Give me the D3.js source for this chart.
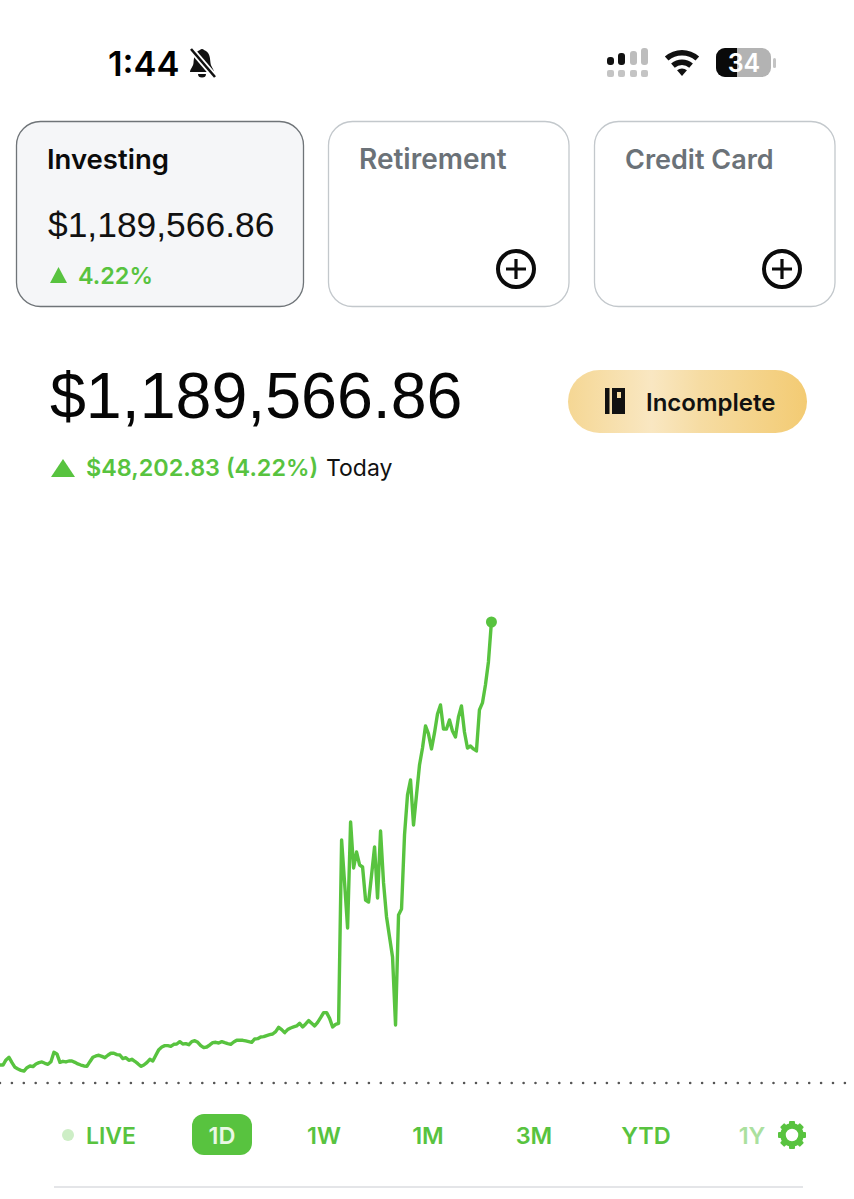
<!DOCTYPE html>
<html>
<head>
<meta charset="utf-8">
<title>Investing 1D</title>
<script src="https://cdn.jsdelivr.net/npm/d3@7"></script>
<style>
    html, body { margin: 0; padding: 0; background: #fff; }
    svg { display: block; }
    text { font-family: Inter, "Liberation Sans", sans-serif; }
    .num { font-family: "Liberation Sans", Arial, sans-serif; }
</style>
</head>
<body>
<div id="chart"></div>
<script>
// Change against the previous close in dollars, one sample per step
const todayChange = [
    1780, 1780, 2310, 2590, 2030, 1540, 1360, 1220, 1150, 1500, 1680, 1610, 1890, 2030, 2100, 1960,
    1850, 2130, 3110, 2940, 2060, 2170, 2100, 2200, 2200, 2060, 1890, 1780, 1680, 1640, 2130, 2590,
    2730, 2800, 2690, 2550, 2800, 3010, 3010, 2870, 2830, 2450, 2550, 2270, 2380, 2170, 1920, 1640,
    1780, 2030, 2380, 2200, 2800, 3390, 3670, 3810, 3810, 3740, 3950, 3980, 4230, 3980, 4020, 3910,
    4230, 4330, 4160, 3810, 3600, 3670, 3880, 4120, 4160, 4090, 4230, 4120, 4020, 3950, 4190, 4370,
    4370, 4370, 4300, 4230, 4160, 4510, 4540, 4720, 4750, 4860, 4960, 5030, 5280, 5730, 5490, 5170,
    5490, 5660, 5770, 5870, 6150, 5770, 6080, 6430, 6150, 5870, 6250, 6740, 7270, 7270, 6670, 5770,
    6040, 6150,
    25360, 20860, 16140, 27250, 22430, 24100, 22740, 22530, 19070, 18860, 21690, 24630, 19280, 26300,
    20860, 17290, 15200, 13100, 5970, 17500, 18130, 25890, 30080, 31650, 26930, 30080, 33220, 35000,
    37310, 36470, 34900, 36580, 38570, 39510, 36990, 36990, 37940, 36780, 36160, 38250, 39400, 36680,
    35000, 35210, 34900, 34690, 38990, 39720, 41610, 44020, 48202.83
];
const sessionSteps = 285; // samples in the whole day, the line stops before the end

const ranges = ["1W", "1M", "3M", "YTD", "1Y"];
const rangeX = [324, 428, 534, 646, 752];
const cardNames = ["Retirement", "Credit Card"];

const green = "#58c33f";
const svg = d3.select("#chart").append("svg").attr("width", 854).attr("height", 1199);

// Status bar
svg.append("text").attr("x", 108).attr("y", 76).attr("font-size", 34.5).attr("font-weight", 600).text("1:44");
const bell = svg.append("g").attr("transform", "translate(202,63)");
bell.append("path").attr("d", "M-2,-13 a2.5,2.5 0 0 1 4,0 C8,-11 8,-5 8.5,0 C9,4 12,6 12,9 L-12,9 C-12,6 -9,4 -8.5,0 C-8,-5 -8,-11 -2,-13 Z").attr("fill", "#111");
bell.append("path").attr("d", "M-4,11 a4,3.5 0 0 0 8,0 Z").attr("fill", "#111");
bell.append("line").attr("x1", -11).attr("y1", -14).attr("x2", 13).attr("y2", 14).attr("stroke", "#fff").attr("stroke-width", 6);
bell.append("line").attr("x1", -11).attr("y1", -14).attr("x2", 13).attr("y2", 14).attr("stroke", "#111").attr("stroke-width", 2.6);

// Signal icon
[[607, 57, 8, "#111"], [618, 53, 8, "#111"], [630, 51, 8, "#bdbdbd"], [641, 48, 8, "#bdbdbd"]].forEach(b => {
    svg.append("rect").attr("x", b[0]).attr("y", b[1]).attr("width", b[2] - 1).attr("height", 65 - b[1]).attr("rx", 3).attr("fill", b[3]);
});
[607, 618, 630, 641].forEach(x => {
    svg.append("rect").attr("x", x).attr("y", 70).attr("width", 7).attr("height", 7).attr("rx", 2).attr("fill", "#c4c4c4");
});

// Wifi icon
const wifi = svg.append("g").attr("transform", "translate(682,76)");
[[20.5, 26], [11, 16.5]].forEach(r => {
    wifi.append("path")
        .attr("d", d3.arc().innerRadius(r[0]).outerRadius(r[1]).startAngle(-0.72).endAngle(0.72)())
        .attr("fill", "#111");
});
wifi.append("path").attr("d", d3.arc().innerRadius(0).outerRadius(7.5).startAngle(-0.72).endAngle(0.72)()).attr("fill", "#111");

// Battery
svg.append("clipPath").attr("id", "batFill").append("rect").attr("x", 716).attr("y", 47).attr("width", 21).attr("height", 32);
svg.append("rect").attr("x", 716).attr("y", 48).attr("width", 55).attr("height", 29).attr("rx", 9).attr("fill", "#b3b3b3");
svg.append("rect").attr("x", 716).attr("y", 48).attr("width", 55).attr("height", 29).attr("rx", 9).attr("fill", "#0a0a0a").attr("clip-path", "url(#batFill)");
svg.append("rect").attr("x", 773).attr("y", 58).attr("width", 3).attr("height", 10).attr("rx", 1.5).attr("fill", "#c4c4c4");
svg.append("text").attr("x", 744).attr("y", 72).attr("text-anchor", "middle").attr("font-size", 25).attr("font-weight", 600).attr("fill", "#fff").text("34");

// Account cards
svg.append("rect").attr("x", 16.5).attr("y", 121.5).attr("width", 287).attr("height", 185).attr("rx", 24)
    .attr("fill", "#f5f6f8").attr("stroke", "#6f7478").attr("stroke-width", 1.3);
svg.append("text").attr("x", 47).attr("y", 169).attr("font-size", 27.5).attr("font-weight", 600).attr("fill", "#0b0b0b").text("Investing");
svg.append("text").attr("class", "num").attr("x", 48).attr("y", 237).attr("font-size", 35.4).attr("fill", "#111").text("$1,189,566.86");
svg.append("path").attr("d", "M50,283 L58.5,267 L67,283 Z").attr("fill", green);
svg.append("text").attr("x", 78).attr("y", 284).attr("font-size", 23.4).attr("font-weight", 600).attr("fill", green).text("4.22%");

cardNames.forEach((name, i) => {
    const left = i === 0 ? 328.5 : 594.5;
    svg.append("rect").attr("x", left).attr("y", 121.5).attr("width", 240.5).attr("height", 185).attr("rx", 24)
        .attr("fill", "#fff").attr("stroke", "#c3c8cc").attr("stroke-width", 1.3);
    svg.append("text").attr("x", left + 30.5).attr("y", 169).attr("font-size", i === 0 ? 28 : 27).attr("font-weight", 600).attr("fill", "#6b7278").text(name);
    const cx = left + 187.5;
    svg.append("circle").attr("cx", cx).attr("cy", 269).attr("r", 18).attr("fill", "none").attr("stroke", "#0b0b0b").attr("stroke-width", 4);
    svg.append("path").attr("d", `M${cx - 10},269 H${cx + 10} M${cx},259 V279`).attr("stroke", "#0b0b0b").attr("stroke-width", 3.2);
});

// Headline value
svg.append("text").attr("class", "num").attr("x", 50).attr("y", 418).attr("font-size", 64.5).attr("fill", "#060606").text("$1,189,566.86");
svg.append("path").attr("d", "M51,477 L63,459 L75,477 Z").attr("fill", green);
const change = svg.append("text").attr("x", 86).attr("y", 476).attr("font-size", 23.4);
change.append("tspan").attr("font-weight", 600).attr("fill", green).text("$48,202.83 (4.22%)");
change.append("tspan").attr("x", 326).attr("font-size", 23).attr("fill", "#111").text("Today");

// Incomplete pill
const gold = svg.append("linearGradient").attr("id", "gold");
[[0, "#f5d794"], [0.35, "#f9e7c2"], [0.55, "#f6dca3"], [1, "#f3cb73"]].forEach(s => {
    gold.append("stop").attr("offset", s[0]).attr("stop-color", s[1]);
});
svg.append("rect").attr("x", 568).attr("y", 370).attr("width", 239).attr("height", 63).attr("rx", 31.5).attr("fill", "url(#gold)");
svg.append("rect").attr("x", 605).attr("y", 388).attr("width", 4.5).attr("height", 26).attr("fill", "#111");
svg.append("rect").attr("x", 612).attr("y", 388).attr("width", 13).attr("height", 26).attr("fill", "#111");
svg.append("rect").attr("x", 617).attr("y", 392).attr("width", 4).attr("height", 6).attr("fill", "#f6dca3");
svg.append("text").attr("x", 646).attr("y", 411).attr("font-size", 24).attr("font-weight", 600).attr("fill", "#111").text("Incomplete");

// Chart
const x = d3.scaleLinear().domain([0, sessionSteps]).range([0, 854]);
const y = d3.scaleLinear().domain([0, 48202.83]).range([1082, 622]);

svg.append("line").attr("x1", 0).attr("x2", 854).attr("y1", y(0) + 1).attr("y2", y(0) + 1)
    .attr("stroke", "#555").attr("stroke-width", 2.6).attr("stroke-linecap", "round").attr("stroke-dasharray", "0 11.9");

const line = d3.line().x((d, i) => x(i)).y(d => y(d));
svg.append("path").datum(todayChange).attr("d", line)
    .attr("fill", "none").attr("stroke", green).attr("stroke-width", 3.4).attr("stroke-linejoin", "round");
svg.append("circle").attr("cx", x(todayChange.length - 1)).attr("cy", y(todayChange[todayChange.length - 1])).attr("r", 5.5).attr("fill", green);

// Range selector
svg.append("circle").attr("cx", 68).attr("cy", 1135).attr("r", 6).attr("fill", "#cdeec6");
svg.append("text").attr("x", 86).attr("y", 1144).attr("font-size", 23).attr("font-weight", 600).attr("fill", green).text("LIVE");
svg.append("rect").attr("x", 192).attr("y", 1114).attr("width", 60).attr("height", 41).attr("rx", 12).attr("fill", green);
svg.append("text").attr("x", 222).attr("y", 1144).attr("text-anchor", "middle").attr("font-size", 23.5).attr("font-weight", 600).attr("fill", "#e9f8e4").text("1D");
ranges.forEach((r, i) => {
    svg.append("text").attr("x", rangeX[i]).attr("y", 1144).attr("text-anchor", "middle").attr("font-size", 23.5).attr("font-weight", 600)
        .attr("fill", green).attr("opacity", r === "1Y" ? 0.5 : 1).text(r);
});

// Gear
const gear = svg.append("g").attr("transform", "translate(792,1135)");
gear.append("circle").attr("r", 9).attr("fill", "none").attr("stroke", green).attr("stroke-width", 5.5);
d3.range(8).forEach(i => {
    gear.append("rect").attr("x", -3).attr("y", -14).attr("width", 6).attr("height", 6).attr("rx", 1).attr("fill", green).attr("transform", `rotate(${i * 45})`);
});

svg.append("line").attr("x1", 54).attr("x2", 803).attr("y1", 1187).attr("y2", 1187).attr("stroke", "#e4e5e8").attr("stroke-width", 2);
</script>
</body>
</html>
